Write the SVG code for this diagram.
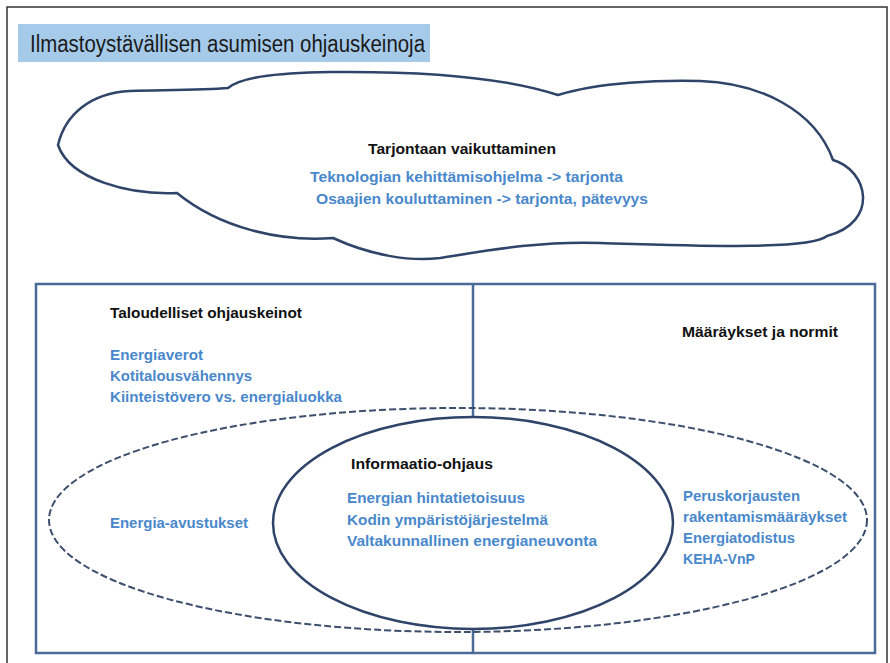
<svg xmlns="http://www.w3.org/2000/svg" width="890" height="663" viewBox="0 0 890 663">
<style>
.t{font-family:"Liberation Sans",Arial,sans-serif;font-weight:bold;font-size:15px;fill:#111}
.b{font-family:"Liberation Sans",Arial,sans-serif;font-weight:bold;font-size:15px;fill:#4a88cc}
.ttl{font-family:"Liberation Sans",Arial,sans-serif;font-size:23px;fill:#1a1a1a}
.shape{fill:#fff;stroke:#2f4468;stroke-width:2.5}
</style>
<rect width="890" height="663" fill="#fff"/>
<rect id="frame" x="7" y="7" width="880" height="680" fill="none" stroke="#333" stroke-width="1.5"/>
<g id="title">
<rect x="18" y="24" width="412" height="38" fill="#a6cbea"/>
<text class="ttl" x="30" y="52" textLength="395" lengthAdjust="spacingAndGlyphs">Ilmastoystävällisen asumisen ohjauskeinoja</text>
</g>
<g id="cloud">
<path class="shape" d="M58 145 C65 115 90 93 130 91 C170 90 205 90 228 88 C240 78 270 73 330 72 C420 71 500 76 558 95 C600 82 660 80 700 81 C760 83 815 110 833 160 C868 170 880 222 827 236 C810 250 700 246 600 243 C540 241 490 250 440 258 C410 262 370 255 333 238 C280 242 220 228 177 193 C130 195 70 180 58 145 Z"/>
<text class="t" x="462" y="154" text-anchor="middle" textLength="188" lengthAdjust="spacingAndGlyphs">Tarjontaan vaikuttaminen</text>
<text class="b" x="310" y="182" textLength="313" lengthAdjust="spacingAndGlyphs">Teknologian kehittämisohjelma  -&gt; tarjonta</text>
<text class="b" x="316" y="204" textLength="332" lengthAdjust="spacingAndGlyphs">Osaajien kouluttaminen  -&gt; tarjonta, pätevyys</text>
</g>
<g id="box">
<rect x="36" y="284" width="839" height="369" fill="#fff" stroke="#4a6a97" stroke-width="2.5"/>
<line x1="473" y1="284" x2="473" y2="653" stroke="#4a6a97" stroke-width="2.5"/>
</g>
<g id="economic">
<text class="t" x="110" y="318" textLength="192" lengthAdjust="spacingAndGlyphs">Taloudelliset ohjauskeinot</text>
<text class="b" x="110" y="360" textLength="93" lengthAdjust="spacingAndGlyphs">Energiaverot</text>
<text class="b" x="110" y="381" textLength="142" lengthAdjust="spacingAndGlyphs">Kotitalousvähennys</text>
<text class="b" x="110" y="402" textLength="232" lengthAdjust="spacingAndGlyphs">Kiinteistövero vs. energialuokka</text>
</g>
<g id="norms">
<text class="t" x="682" y="337" textLength="156" lengthAdjust="spacingAndGlyphs">Määräykset ja normit</text>
</g>
<g id="dashed">
<ellipse cx="458" cy="520" rx="409" ry="112" fill="none" stroke="#3d4f6d" stroke-width="2" stroke-dasharray="7 3"/>
<text class="b" x="110" y="528" textLength="138" lengthAdjust="spacingAndGlyphs">Energia-avustukset</text>
<text class="b" x="683" y="501" textLength="117" lengthAdjust="spacingAndGlyphs">Peruskorjausten</text>
<text class="b" x="683" y="522" textLength="164" lengthAdjust="spacingAndGlyphs">rakentamismääräykset</text>
<text class="b" x="683" y="543" textLength="112" lengthAdjust="spacingAndGlyphs">Energiatodistus</text>
<text class="b" x="683" y="564" textLength="72" lengthAdjust="spacingAndGlyphs">KEHA-VnP</text>
</g>
<g id="info">
<ellipse class="shape" cx="473" cy="523" rx="200" ry="106"/>
<text class="t" x="351" y="469" textLength="142" lengthAdjust="spacingAndGlyphs">Informaatio-ohjaus</text>
<text class="b" x="347" y="503" textLength="178" lengthAdjust="spacingAndGlyphs">Energian hintatietoisuus</text>
<text class="b" x="347" y="525" textLength="201" lengthAdjust="spacingAndGlyphs">Kodin ympäristöjärjestelmä</text>
<text class="b" x="347" y="546" textLength="250" lengthAdjust="spacingAndGlyphs">Valtakunnallinen energianeuvonta</text>
</g>
</svg>
